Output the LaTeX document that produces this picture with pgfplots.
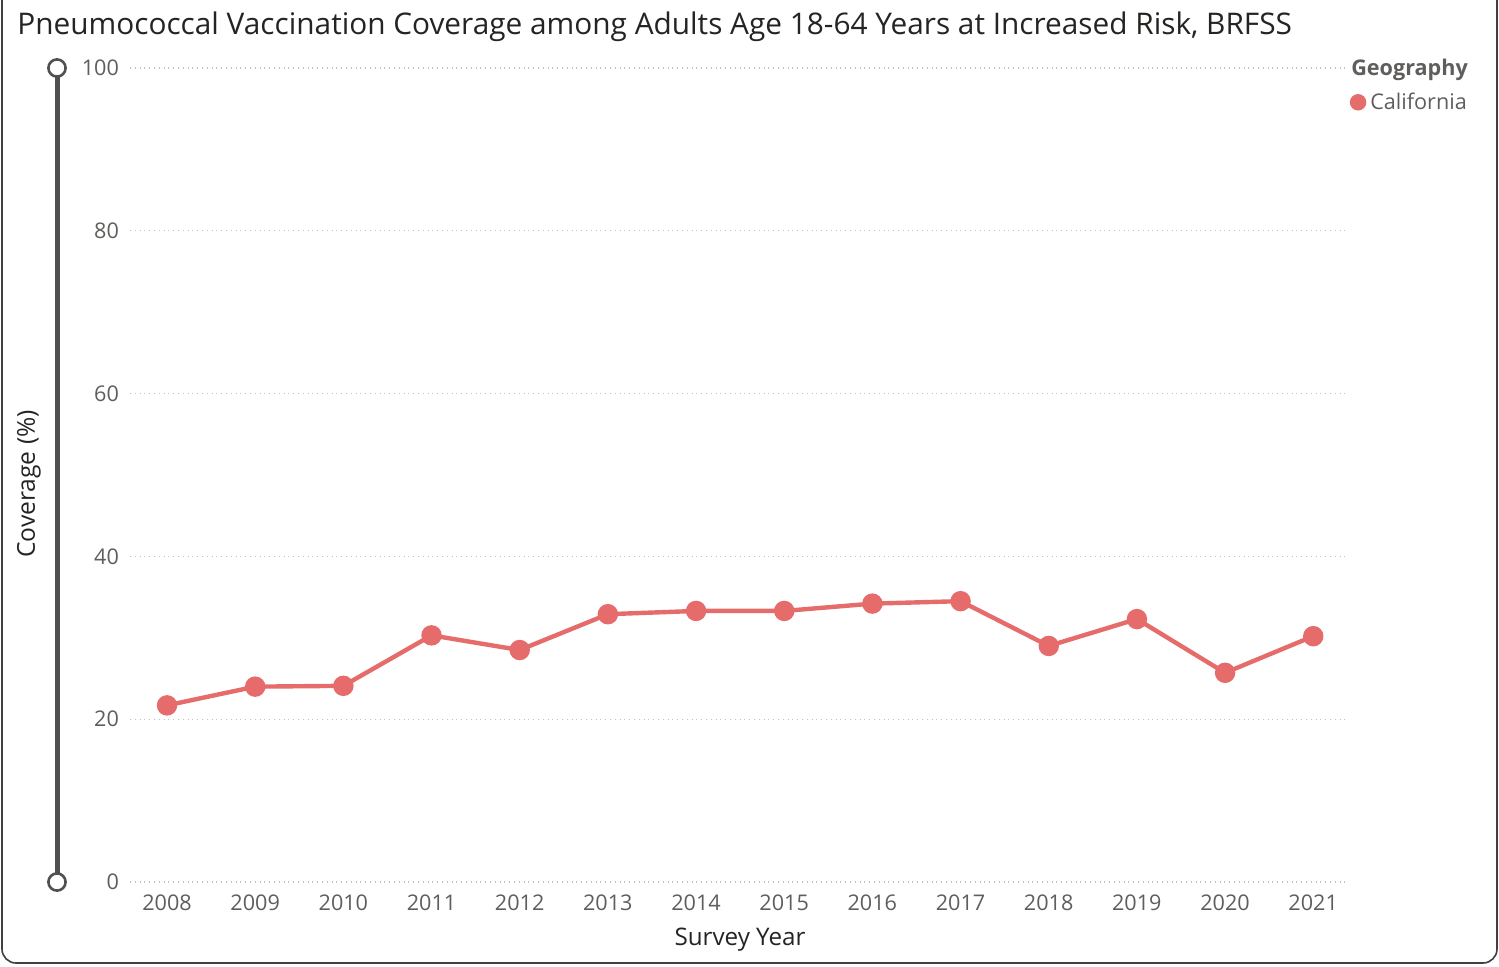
\documentclass[border=0pt]{standalone}
\usepackage{pgfplots}
\pgfplotsset{compat=1.18}
\usepackage{fontspec}
\setmainfont{Open Sans}
\definecolor{cal}{RGB}{230,108,108}
\definecolor{tickgray}{RGB}{96,94,92}
\definecolor{titlec}{RGB}{37,36,35}
\definecolor{slider}{RGB}{80,80,80}
\begin{document}
\begin{tikzpicture}
\useasboundingbox (0,0) rectangle (749.5pt,483pt);
\draw[black!75, line width=0.8pt, rounded corners=7pt] (1pt,1.5pt) rectangle (748.5pt,495pt);
\node[anchor=west, text=titlec, font=\fontsize{14.9}{17}\selectfont, inner sep=0pt] at (8.5pt,469.5pt) {Pneumococcal Vaccination Coverage among Adults Age 18-64 Years at Increased Risk, BRFSS};
% slider
\draw[slider, line width=2.5pt] (28.5pt,449pt) -- (28.5pt,42pt);
\draw[slider, line width=1.3pt, fill=white] (28.5pt,449pt) circle (4.3pt);
\draw[slider, line width=1.3pt, fill=white] (28.5pt,42pt) circle (4.3pt);
\node[rotate=90, text=titlec, font=\fontsize{12.3}{14}\selectfont] at (14.5pt,241pt) {Coverage (\%)};
\node[text=titlec, font=\fontsize{12.1}{14}\selectfont] at (370pt,13pt) {Survey Year};
\begin{axis}[
  at={(65pt,42pt)}, anchor=south west,
  scale only axis, width=607.5pt, height=407pt,
  xmin=2007.58, xmax=2021.36, ymin=0, ymax=100,
  xtick={2008,...,2021}, ytick={0,20,...,100},
  axis line style={draw=none}, major tick length=0pt,
  ymajorgrids, grid style={black!25, dotted, line width=0.6pt},
  /pgf/number format/assume math mode=true,
  xticklabel style={/pgf/number format/1000 sep=, text=tickgray, font=\fontsize{10.8}{12}\selectfont, yshift=-3pt},
  yticklabel style={text=tickgray, font=\fontsize{10.8}{12}\selectfont, xshift=-2pt},
  legend style={at={(rel axis cs:0.996,1.02)}, anchor=north west, xshift=3.5pt, yshift=-1.5pt,
    draw=none, fill=none,
    font=\fontsize{10.8}{12}\selectfont, text=tickgray, row sep=3pt, inner sep=0pt,
    /tikz/every even column/.append style={column sep=1pt}},
  legend cell align=left,
  clip=false,
]
\addlegendimage{empty legend}
\addlegendentry{\hspace*{-9.5pt}\textbf{Geography}}
\addplot[cal, line width=2.2pt, mark=*, mark size=4pt, mark options={fill=cal, draw=cal},
  legend image code/.code={\fill[cal] (0.15cm+1pt,0) circle (3pt);}]
coordinates {
(2008,21.7) (2009,24.0) (2010,24.1) (2011,30.3) (2012,28.5) (2013,32.9) (2014,33.3)
(2015,33.3) (2016,34.2) (2017,34.5) (2018,29.0) (2019,32.3) (2020,25.7) (2021,30.2)
};
\addlegendentry{California}
\end{axis}
\end{tikzpicture}
\end{document}
